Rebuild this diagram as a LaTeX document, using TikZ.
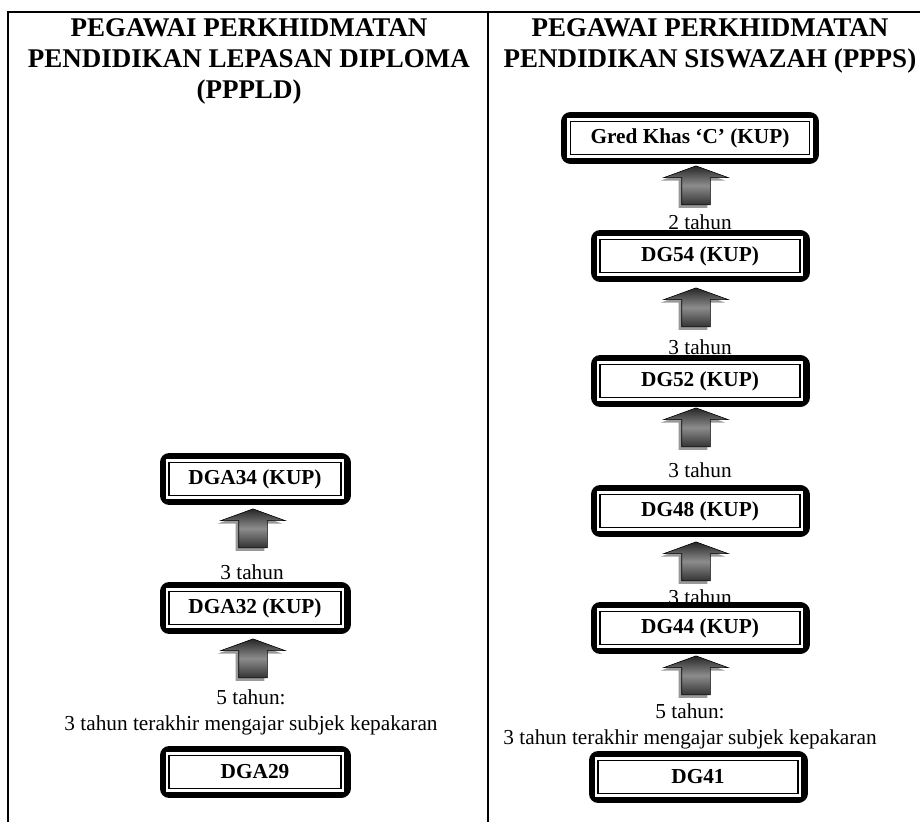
\documentclass[tikz,border=0pt]{standalone}
\usepackage{fontspec}
\setmainfont{Liberation Serif}
\usetikzlibrary{shapes.arrows,shadows}

\begin{document}
\begin{tikzpicture}[x=1pt, y=-1pt,
		stufe/.style={draw=black, fill=white, line width=1.5pt, minimum width=#1, minimum height=33pt, inner sep=0pt,
			font=\fontsize{21.3}{24}\selectfont\bfseries,
			preaction={draw=black, line width=19pt, line join=round},
			preaction={draw=white, line width=6.5pt, line join=miter}},
		stufe/.default=200pt,
		hoch/.style={single arrow, rotate=90, draw=black, line width=0.6pt, inner xsep=0pt, inner ysep=14pt,
			minimum height=39pt, single arrow head extend=18pt, single arrow tip angle=140,
			top color=black!85, bottom color=black!80, middle color=black!45,
			drop shadow={shadow xshift=-3pt, shadow yshift=-3pt, fill=black!40, opacity=1}},
		txt/.style={font=\fontsize{21.3}{26}\selectfont, align=center, inner sep=0pt},
		titel/.style={font=\fontsize{27}{31}\selectfont\bfseries, align=center, inner sep=0pt, anchor=north}]
	\useasboundingbox (0,0) rectangle (920,822);
	% Tabellenrahmen
	\draw[line width=1.6pt] (8,822) -- (8,12) -- (920,12);
	\draw[line width=1.6pt] (488,12) -- (488,822);
	% Ueberschriften
	\node[titel] (kopfl) at (249,18) {PEGAWAI PERKHIDMATAN\\PENDIDIKAN LEPASAN DIPLOMA\\(PPPLD)};
	\node[titel] (kopfr) at (710,18) {PEGAWAI PERKHIDMATAN\\PENDIDIKAN SISWAZAH (PPPS)};
	% linke Spalte: PPPLD
	\node[stufe=172pt] (dga34) at (255,479) {DGA34 (KUP)};
	\node[hoch] (pl1) at (253,531) {};
	\node[txt] (tl1) at (252,572) {3 tahun};
	\node[stufe=172pt] (dga32) at (255,608) {DGA32 (KUP)};
	\node[hoch] (pl2) at (253,661) {};
	\node[txt] (tl2) at (251,712) {5 tahun:\\3 tahun terakhir mengajar subjek kepakaran};
	\node[stufe=172pt] (dga29) at (255,772) {DGA29};
	% rechte Spalte: PPPS
	\node[stufe=239pt] (gk) at (690,138) {Gred Khas ‘C’ (KUP)};
	\foreach \n/\y in {54/256, 52/381, 48/511, 44/628}
		\node[stufe] (dg\n) at (700,\y) {DG\n{} (KUP)};
	\node[stufe] (dg41) at (698,777) {DG41};
	\foreach \i/\y in {1/188, 2/310, 3/430, 4/564, 5/678}
		\node[hoch] (pr\i) at (696,\y) {};
	\node[txt] (tr1) at (700,222) {2 tahun};
	\foreach \i/\y in {2/347, 3/470, 4/597}
		\node[txt] (tr\i) at (700,\y) {3 tahun};
	\node[txt] (tr5) at (690,726) {5 tahun:\\3 tahun terakhir mengajar subjek kepakaran};
\end{tikzpicture}
\end{document}
